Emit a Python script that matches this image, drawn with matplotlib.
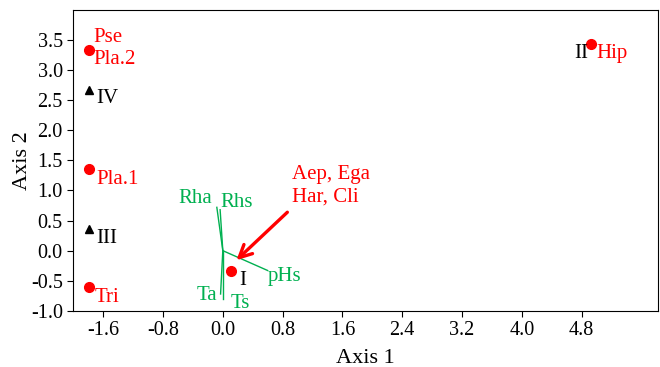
import matplotlib
matplotlib.use("Agg")
import matplotlib.pyplot as plt

plt.rcParams['font.family'] = ['Liberation Serif', 'DejaVu Serif']
plt.rcParams['axes.unicode_minus'] = False

red = '#ff0000'
green = '#00b050'

# species / sample points (red circles)
sp_x = [-1.79, -1.79, -1.79, 0.11, 4.93]
sp_y = [3.33, 1.36, -0.61, -0.345, 3.43]
sp_labels = ['Pse\nPla.2', 'Pla.1', 'Tri', '', 'Hip']
sp_lab_x = [-1.73, -1.69, -1.71, 0, 5.0]
sp_lab_y = [3.36, 1.19, -0.78, 0, 3.28]

# group centroids (black triangles)
grp_x = [-1.79, -1.79]
grp_y = [2.67, 0.36]
grp_labels = ['IV', 'III']
grp_lab_y = [2.53, 0.21]

# environmental vectors (green)
env_names = ['Rha', 'Rhs', 'Ta', 'Ts', 'pHs']
env_x = [-0.08, -0.036, -0.03, 0.0, 0.6]
env_y = [0.72, 0.68, -0.72, -0.80, -0.33]
env_lab_x = [-0.6, -0.03, -0.35, 0.11, 0.6]
env_lab_y = [0.87, 0.80, -0.75, -0.88, -0.43]

xticks = [-1.6, -0.8, 0.0, 0.8, 1.6, 2.4, 3.2, 4.0, 4.8]
yticks = [-1.0, -0.5, 0.0, 0.5, 1.0, 1.5, 2.0, 2.5, 3.0, 3.5]

fs = 15

fig = plt.figure(figsize=(6.6, 3.67), dpi=100)
ax = fig.add_subplot(111)
fig.subplots_adjust(left=0.111, right=0.997, top=0.973, bottom=0.153)

for x, y in zip(env_x, env_y):
    ax.plot([0, x], [0, y], color=green, lw=1, zorder=2)
for name, x, y in zip(env_names, env_lab_x, env_lab_y):
    ax.text(x, y, name, color=green, fontsize=fs, ha='left', va='center')

ax.plot(sp_x, sp_y, 'o', color=red, ms=7, zorder=3)
for lab, x, y in zip(sp_labels, sp_lab_x, sp_lab_y):
    if lab:
        ax.text(x, y, lab, color=red, fontsize=fs, ha='left', va='center',
                linespacing=1.25)

ax.plot(grp_x, grp_y, '^', color='black', ms=6, zorder=3)
for lab, y in zip(grp_labels, grp_lab_y):
    ax.text(-1.69, y, lab, color='black', fontsize=fs, ha='left', va='center')

ax.text(0.22, -0.5, 'I', color='black', fontsize=fs, ha='left', va='center')
ax.text(4.89, 3.28, 'II', color='black', fontsize=fs, ha='right', va='center')

ax.annotate('', xy=(0.155, -0.19), xytext=(0.89, 0.67),
            arrowprops=dict(arrowstyle='->,head_length=0.9,head_width=0.45',
                            color=red, lw=2.4))
ax.text(0.93, 1.08, 'Aep, Ega\nHar, Cli', color=red, fontsize=fs,
        ha='left', va='center', linespacing=1.25)

ax.set_xlim(-2.0, 5.82)
ax.set_ylim(-1.0, 4.0)
ax.set_xticks(xticks)
ax.set_xticklabels(['%.1f' % t for t in xticks])
ax.set_yticks(yticks)
ax.set_yticklabels(['%.1f' % t for t in yticks])
ax.tick_params(direction='out', length=4, labelsize=14.5, top=False, right=False)
ax.set_xlabel('Axis 1', fontsize=16, labelpad=6)
ax.set_ylabel('Axis 2', fontsize=16, labelpad=-1)

plt.savefig('out.png', dpi=100)
